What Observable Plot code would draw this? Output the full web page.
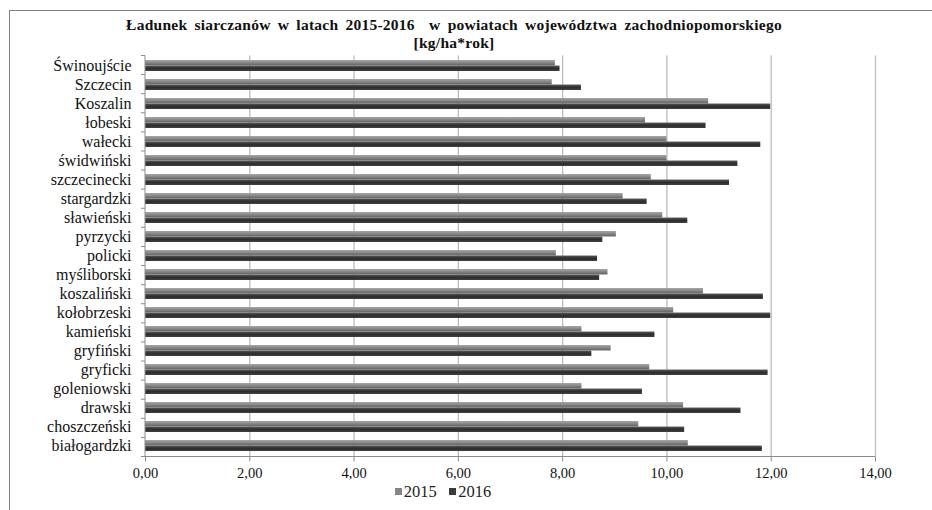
<!DOCTYPE html>
<html>
<head>
<meta charset="utf-8">
<script src="https://cdn.jsdelivr.net/npm/d3@7"></script>
<script src="https://cdn.jsdelivr.net/npm/@observablehq/plot@0.6"></script>
<style>
  html, body { margin: 0; padding: 0; background: #fff; }
  #wrap { position: relative; width: 932px; height: 510px; overflow: hidden; font-family: "Liberation Serif", "Times New Roman", serif; }
  #frame { position: absolute; left: 9px; top: 10px; width: 940px; height: 520px; border-left: 1.5px solid #808080; border-top: 1.5px solid #808080; }
  .title { position: absolute; left: 0; width: 908px; text-align: center; font-weight: bold; font-size: 15.5px; line-height: 18px; height: 18px; color: #111; letter-spacing: 0.25px; word-spacing: 3px; }
  #legend { position: absolute; left: 0; top: 482px; width: 886px; text-align: center; font-size: 16.5px; color: #222; }
  #legend span.sw { display: inline-block; width: 7px; height: 7px; margin-right: 2px; vertical-align: 2px; }
  #chart { position: absolute; left: 0; top: 0; }
</style>
</head>
<body>
<div id="wrap">
  <div id="frame"></div>
  <div id="chart"></div>
  <div class="title" style="top:16px">Ładunek siarczanów w latach 2015-2016&nbsp; w powiatach województwa zachodniopomorskiego</div>
  <div class="title" style="top:34px">[kg/ha*rok]</div>
  <div id="legend"><span class="sw" style="background:#858585"></span>2015&nbsp;&nbsp; <span class="sw" style="background:#3a3a3a"></span>2016</div>
</div>
<script>
const categories = ["Świnoujście","Szczecin","Koszalin","łobeski","wałecki","świdwiński","szczecinecki","stargardzki","sławieński","pyrzycki","policki","myśliborski","koszaliński","kołobrzeski","kamieński","gryfiński","gryficki","goleniowski","drawski","choszczeński","białogardzki"];
const values2015 = [7.86,7.80,10.80,9.59,10.00,10.00,9.70,9.16,9.92,9.03,7.88,8.87,10.70,10.13,8.37,8.93,9.67,8.37,10.32,9.46,10.41];
const values2016 = [7.95,8.36,11.99,10.75,11.80,11.36,11.20,9.62,10.40,8.77,8.67,8.71,11.85,11.99,9.77,8.56,11.94,9.53,11.42,10.34,11.83];
const xTicks = [0,2,4,6,8,10,12,14];

const d15 = categories.map((c,i)=>({name:c, value:values2015[i]}));
const d16 = categories.map((c,i)=>({name:c, value:values2016[i]}));

const W = 932, H = 510;
const mL = 145, mR = 57, mT = 55.5, mB = 53.5;

function defs() {
  const svg = d3.create("svg:g");
  const df = svg.append("defs");
  const g1 = df.append("linearGradient").attr("id","g2015").attr("x1",0).attr("x2",0).attr("y1",0).attr("y2",1);
  g1.append("stop").attr("offset","0%").attr("stop-color","#a6a6a6");
  g1.append("stop").attr("offset","45%").attr("stop-color","#8a8a8a");
  g1.append("stop").attr("offset","100%").attr("stop-color","#606060");
  const g2 = df.append("linearGradient").attr("id","g2016").attr("x1",0).attr("x2",0).attr("y1",0).attr("y2",1);
  g2.append("stop").attr("offset","0%").attr("stop-color","#5a5a5a");
  g2.append("stop").attr("offset","50%").attr("stop-color","#2c2c2c");
  g2.append("stop").attr("offset","100%").attr("stop-color","#404040");
  return svg.node();
}

function axesLines(index, scales, values, dimensions) {
  const {width, height, marginLeft, marginRight, marginTop, marginBottom} = dimensions;
  const g = d3.create("svg:g").attr("stroke","#8c8c8c").attr("stroke-width",1);
  const yb = height - marginBottom;
  g.append("line").attr("x1", marginLeft).attr("x2", width - marginRight).attr("y1", yb).attr("y2", yb);
  g.append("line").attr("x1", marginLeft).attr("x2", marginLeft).attr("y1", marginTop).attr("y2", yb);
  const n = categories.length;
  const step = (yb - marginTop) / n;
  for (let i = 0; i <= n; i++) {
    const yy = marginTop + i * step;
    g.append("line").attr("x1", marginLeft - 4).attr("x2", marginLeft).attr("y1", yy).attr("y2", yy);
  }
  return g.node();
}

const half = (H - mT - mB) / categories.length * 0.58 / 2;

const plot = Plot.plot({
  width: W, height: H,
  marginLeft: mL, marginRight: mR, marginTop: mT, marginBottom: mB,
  style: {fontFamily: '"Liberation Serif", "Times New Roman", serif', background: "transparent", color: "#111"},
  x: {domain: [0, 14], ticks: xTicks, label: null},
  y: {domain: categories, paddingInner: 0.42, paddingOuter: 0.21, label: null},
  marks: [
    defs,
    Plot.ruleX(xTicks.slice(1), {stroke: "#bcbcbc", strokeWidth: 1.3, strokeOpacity: 1}),
    Plot.barX(d15, {x: "value", y: "name", fill: "url(#g2015)", insetBottom: half}),
    Plot.barX(d16, {x: "value", y: "name", fill: "url(#g2016)", insetTop: half}),
    axesLines,
    Plot.axisX({ticks: xTicks, tickSize: 5, tickPadding: 6, fontSize: 14.5, stroke: "#8c8c8c", label: null,
      tickFormat: d => d.toFixed(2).replace(".", ",")}),
    Plot.axisY({tickSize: 0, tickPadding: 14, fontSize: 16, label: null})
  ]
});
document.getElementById("chart").appendChild(plot);
</script>
</body>
</html>
